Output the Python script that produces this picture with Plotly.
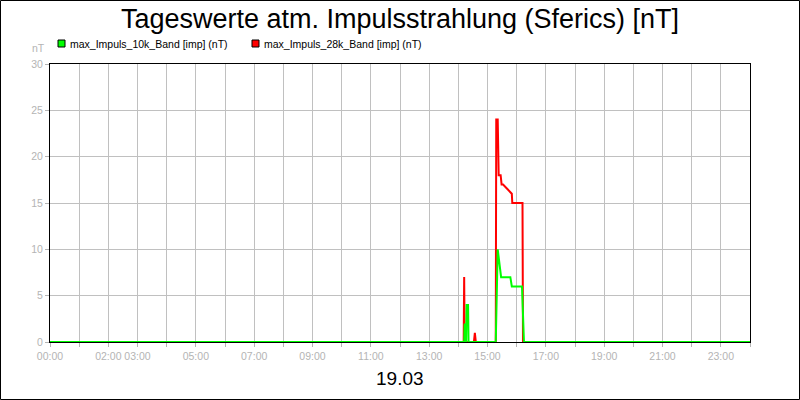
import plotly.graph_objects as go

# ---- data ----
green_times = ["00:00", "14:12", "14:13", "14:15", "14:16", "14:17", "14:20", "14:21",
               "15:17", "15:21", "15:28", "15:47", "15:50", "16:11", "16:15", "24:00"]
green_vals = [0, 0, 2, 0, 0, 4, 4, 0,
              0, 10, 7, 7, 6, 6, 0, 0]

red_times = ["00:00", "14:11", "14:12", "14:13", "14:32", "14:34", "14:36",
             "15:17", "15:18", "15:21", "15:23", "15:27", "15:29", "15:32", "15:50", "15:51",
             "16:12", "16:13", "24:00"]
red_vals = [0, 0, 7, 0, 0, 1, 0,
            0, 24, 24, 18, 18, 17, 17, 16, 15,
            15, 0, 0]

tick_hours = [0, 2, 3, 5, 7, 9, 11, 13, 15, 17, 19, 21, 23]
tick_labels = ["00:00", "02:00", "03:00", "05:00", "07:00", "09:00", "11:00",
               "13:00", "15:00", "17:00", "19:00", "21:00", "23:00"]
grid_hours = list(range(0, 25))

name_green = "max_Impuls_10k_Band [imp] (nT)"
name_red = "max_Impuls_28k_Band [imp] (nT)"
title_text = "Tageswerte atm. Impulsstrahlung (Sferics) [nT]"
date_text = "19.03"


def to_h(t):
    h, m = t.split(":")
    return int(h) + int(m) / 60.0


gx = [to_h(t) for t in green_times]
rx = [to_h(t) for t in red_times]

FONT = "Liberation Sans, Arial, sans-serif"
GREY = "#b4b4b4"

L, R, T, B = 50, 50, 64, 58
W, H = 800, 400
pw, ph = W - L - R, H - T - B


def px_x(x):
    return (x - L) / pw


def px_y(y):
    return (H - B - y) / ph


fig = go.Figure()
fig.add_trace(go.Scatter(x=rx, y=red_vals, mode="lines", line=dict(color="#ff0000", width=2),
                         name=name_red, showlegend=False, hoverinfo="skip"))
fig.add_trace(go.Scatter(x=gx, y=green_vals, mode="lines", line=dict(color="#00ff00", width=2),
                         name=name_green, showlegend=False, hoverinfo="skip"))
fig.add_trace(go.Scatter(x=[None], y=[None], xaxis="x2", showlegend=False, hoverinfo="skip"))

fig.update_layout(
    width=W, height=H,
    margin=dict(l=L, r=R, t=T, b=B, pad=0, autoexpand=False),
    paper_bgcolor="white", plot_bgcolor="white",
    font=dict(family=FONT, size=11, color="black"),
    title=dict(text=title_text, x=0.5, xanchor="center", y=1 - 19 / H, yanchor="middle",
               font=dict(size=27, color="black", family=FONT)),
    showlegend=False,
    xaxis=dict(range=[0, 24], tickmode="array", tickvals=tick_hours, ticktext=tick_labels,
               tickangle=0, showgrid=False, zeroline=False, showline=True, linecolor="black",
               linewidth=1, mirror=True, ticks="", tickfont=dict(color=GREY, size=10.5),
               ticklabelstandoff=4, automargin=False, layer="below traces"),
    yaxis=dict(range=[0, 30], tickmode="linear", tick0=0, dtick=5, showgrid=True,
               gridcolor="#c0c0c0", gridwidth=1, zeroline=False, showline=True,
               linecolor="black", linewidth=1, mirror=True, ticks="outside", ticklen=4,
               tickcolor=GREY, tickfont=dict(color=GREY, size=10.5), automargin=False,
               layer="below traces"),
    xaxis2=dict(range=[0, 24], overlaying="x", side="bottom", tickmode="array",
                tickvals=grid_hours, showticklabels=False, showgrid=True,
                gridcolor="#c0c0c0", gridwidth=1, ticks="outside", ticklen=4,
                tickcolor=GREY, zeroline=False, layer="below traces", automargin=False),
)

# legend drawn manually (square swatches + text)
for sx, col, txt in [(58, "#00ff00", name_green), (252, "#ff0000", name_red)]:
    fig.add_shape(type="rect", xref="paper", yref="paper",
                  x0=px_x(sx), x1=px_x(sx + 7), y0=px_y(47), y1=px_y(40),
                  fillcolor=col, line=dict(color="black", width=1))
    fig.add_annotation(text=txt, xref="paper", yref="paper", x=px_x(sx + 10), y=px_y(43.5),
                       xanchor="left", yanchor="middle", showarrow=False,
                       font=dict(size=10.5, color="black", family=FONT))

fig.add_annotation(text="nT", xref="paper", yref="paper", x=px_x(47), y=px_y(48),
                   xanchor="right", yanchor="middle", showarrow=False,
                   font=dict(size=10.5, color=GREY, family=FONT))
fig.add_annotation(text=date_text, xref="paper", yref="paper", x=0.5, y=px_y(378),
                   xanchor="center", yanchor="middle", showarrow=False,
                   font=dict(size=19, color="black", family=FONT))

# outer border
fig.add_shape(type="rect", xref="paper", yref="paper",
              x0=px_x(0.5), x1=px_x(W - 0.5), y0=px_y(H - 0.5), y1=px_y(0.5),
              line=dict(color="black", width=1), layer="above")

fig.write_html("out.html", config={"displayModeBar": False},
               post_script="document.body.style.margin='0';document.body.style.overflow='hidden';")
